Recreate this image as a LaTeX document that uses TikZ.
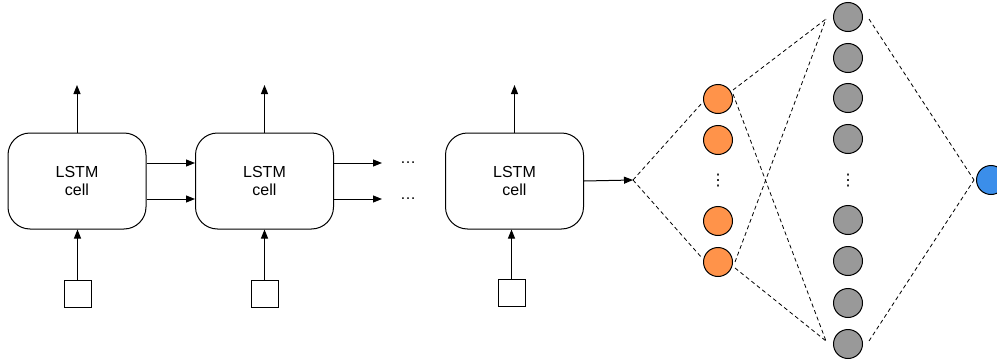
\documentclass[tikz,border=0pt]{standalone}
\usepackage{fontspec}
\setmainfont{Liberation Sans}
\newfontfamily\dejavu{DejaVu Sans}
\usetikzlibrary{arrows.meta}
\definecolor{orangeN}{HTML}{FF934A}
\definecolor{grayN}{HTML}{999999}
\definecolor{blueN}{HTML}{3B8EEA}
\begin{document}
\begin{tikzpicture}[x=1pt,y=-1pt,line width=1pt,
  cellbox/.style={draw,rounded corners=22pt,minimum width=138pt,minimum height=96pt,
    align=center,font=\fontsize{16}{18}\selectfont,inner sep=0pt},
  inbox/.style={draw,minimum size=27pt,inner sep=0pt},
  arr/.style={-{Triangle[length=9pt,width=7pt]}},
  dline/.style={dashed,dash pattern=on 4pt off 3pt,line width=0.8pt},
  neuron/.style={circle,draw,minimum size=29pt,inner sep=0pt,line width=1pt},
  dotstxt/.style={font=\fontsize{16}{18}\selectfont,inner sep=0pt},
  vdotstxt/.style={font=\dejavu\fontsize{16}{18}\selectfont,inner sep=0pt}]
\useasboundingbox (0,0) rectangle (997,364);
% LSTM cells
\node[cellbox] (b1) at (77,181) {LSTM\\cell};
\node[cellbox] (b2) at (264.5,181) {LSTM\\cell};
\node[cellbox] (b3) at (514.5,181) {LSTM\\cell};
% inputs
\node[inbox] (s1) at (77.5,293.5) {};
\node[inbox] (s2) at (264.5,293.5) {};
\node[inbox] (s3) at (511.5,293) {};
\draw[arr] (s1.north) -- (s1.north |- b1.south);
\draw[arr] (s2.north) -- (s2.north |- b2.south);
\draw[arr] (s3.north) -- (s3.north |- b3.south);
% outputs
\coordinate (u1) at (77,85);
\coordinate (u2) at (264.5,85);
\coordinate (u3) at (514.5,85);
\draw[arr] (b1.north) -- (u1);
\draw[arr] (b2.north) -- (u2);
\draw[arr] (b3.north) -- (u3);
% recurrent connections
\draw[arr] ([yshift=18pt]b1.east) -- ([yshift=18pt]b2.west);
\draw[arr] ([yshift=-18pt]b1.east) -- ([yshift=-18pt]b2.west);
\coordinate (r1) at (382,163);
\coordinate (r2) at (382,199);
\draw[arr] ([yshift=18pt]b2.east) -- (r1);
\draw[arr] ([yshift=-18pt]b2.east) -- (r2);
\node[dotstxt] (h1) at (408,163) {…};
\node[dotstxt] (h2) at (408,199) {…};
% to dense network
\coordinate (c0) at (633,180);
\draw[arr] (b3.east) -- (c0);
% orange layer
\node[neuron,fill=orangeN] (o1) at (718,99) {};
\node[neuron,fill=orangeN] (o2) at (718,140) {};
\node[neuron,fill=orangeN] (o3) at (718,221) {};
\node[neuron,fill=orangeN] (o4) at (718,262) {};
\node[vdotstxt] (ov) at (718,181) {⋮};
% gray layer
\foreach \i/\yy in {1/17,2/58,3/98,4/139,5/220,6/261,7/303,8/344}
  \node[neuron,fill=grayN] (g\i) at (848,\yy) {};
\node[vdotstxt] (gv) at (848,181) {⋮};
% output
\node[neuron,fill=blueN] (out) at (991,180) {};
% connection points
\coordinate (o1a) at (702,103);
\coordinate (o4a) at (702,258);
\coordinate (o1b) at (733,90);
\coordinate (o1c) at (733,94);
\coordinate (o4b) at (735,262);
\coordinate (o4c) at (735,268);
\coordinate (g1a) at (826,19);
\coordinate (g8a) at (826,341);
\coordinate (g1b) at (869,19);
\coordinate (g8b) at (869,341);
\coordinate (outa) at (974,180);
\draw[dline] (c0) -- (o1a);
\draw[dline] (c0) -- (o4a);
\draw[dline] (o1b) -- (g1a);
\draw[dline] (o1c) -- (g8a);
\draw[dline] (o4b) -- (g1a);
\draw[dline] (o4c) -- (g8a);
\draw[dline] (g1b) -- (outa);
\draw[dline] (g8b) -- (outa);
\end{tikzpicture}
\end{document}
